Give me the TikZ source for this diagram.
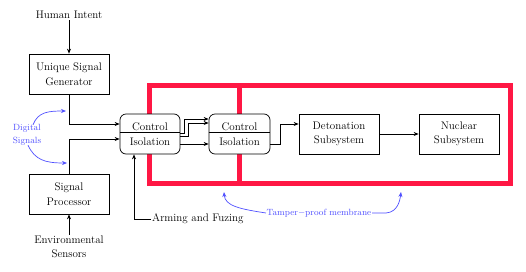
\documentclass[tikz,border=0pt]{standalone}
\usetikzlibrary{arrows.meta,calc}
\definecolor{membrane}{RGB}{255,23,68}
\definecolor{note}{RGB}{80,80,255}
\begin{document}
\begin{tikzpicture}[x=1pt,y=-1pt,
  txt/.style={font=\fontsize{11}{14.5}\selectfont, align=center, inner sep=1pt},
  box/.style={txt, draw, fill=white, minimum width=80pt, minimum height=40pt, line width=0.7pt},
  cibox/.style={txt, draw, fill=white, minimum width=60pt, minimum height=40pt, rounded corners=6pt, line width=0.7pt},
  arr/.style={-{Stealth[length=5pt,width=4pt]}, line width=0.7pt},
  blarr/.style={-{Stealth[length=5pt,width=4pt]}, note, line width=0.7pt},
  redline/.style={membrane, line width=5pt},
  bluetxt/.style={font=\fontsize{9}{13}\selectfont, text=note, align=center, inner sep=0.5pt}]
\useasboundingbox (0,0) rectangle (526,271);
% tamper-proof membrane
\draw[redline] (149.5,85) rectangle (510,183);
\draw[redline] (239.5,85) -- (239.5,183);
% nodes
\node[txt] (hi) at (69,15) {Human Intent};
\node[box] (usg) at (69,74) {Unique Signal\\Generator};
\node[box] (sp) at (69,194) {Signal\\Processor};
\node[txt] (es) at (69,247) {Environmental\\Sensors};
\node[cibox] (ci1) at (150,134) {Control\\Isolation};
\node[cibox, minimum width=61pt] (ci2) at (239.5,134) {Control\\Isolation};
\node[box] (det) at (339,134) {Detonation\\Subsystem};
\node[box] (nuc) at (459,134) {Nuclear\\Subsystem};
\node[txt, anchor=west] (af) at (151,219) {Arming and Fuzing};
\node[bluetxt] (ds) at (27,135) {Digital\\Signals};
\node[bluetxt] (tp) at (319,213) {Tamper$-$proof membrane};
% dividers
\draw[line width=0.7pt] ($(ci1.west)+(0,-2)$) -- ($(ci1.east)+(0,-2)$);
\draw[line width=0.7pt] ($(ci2.west)+(0,-2)$) -- ($(ci2.east)+(0,-2)$);
% connectors
\draw[arr] (hi.south) -- (usg.north);
\draw[arr] (usg.south) |- ([yshift=10pt]ci1.west);
\draw[arr] (sp.north) |- ([yshift=-5pt]ci1.west);
\draw[arr] (es.north) -- (sp.south);
\draw[arr] (af.west) -| ([xshift=-16pt]ci1.south);
\draw[arr] ([yshift=1pt]ci1.east) -- ++(4,0) |- ([yshift=15pt]ci2.west);
\draw[arr] ([yshift=-2pt]ci1.east) -- ++(8,0) |- ([yshift=11pt]ci2.west);
\draw[arr] ([yshift=-10pt]ci1.east) -- ([yshift=-10pt]ci2.west);
\draw[arr] ([yshift=-10pt]ci2.east) -- ++(10,0) |- ([yshift=10pt]det.west);
\draw[arr] (det.east) -- (nuc.west);
% blue notes
\coordinate (dsa) at (66,111);
\coordinate (dsb) at (67,163);
\coordinate (tpa) at (224,192);
\coordinate (tpb) at (401,192);
\draw[blarr] ($(ds.north)+(6,1)$) .. controls (38,112) and (48,111) .. (dsa);
\draw[blarr] ($(ds.south)+(1,-1)$) .. controls (35,160) and (45,163) .. (dsb);
\draw[blarr] (tp.west) .. controls (240,209) and (225,206) .. (tpa);
\draw[blarr] (tp.east) -- ++(14,0) .. controls (398,212) and (400,200) .. (tpb);
\end{tikzpicture}
\end{document}
